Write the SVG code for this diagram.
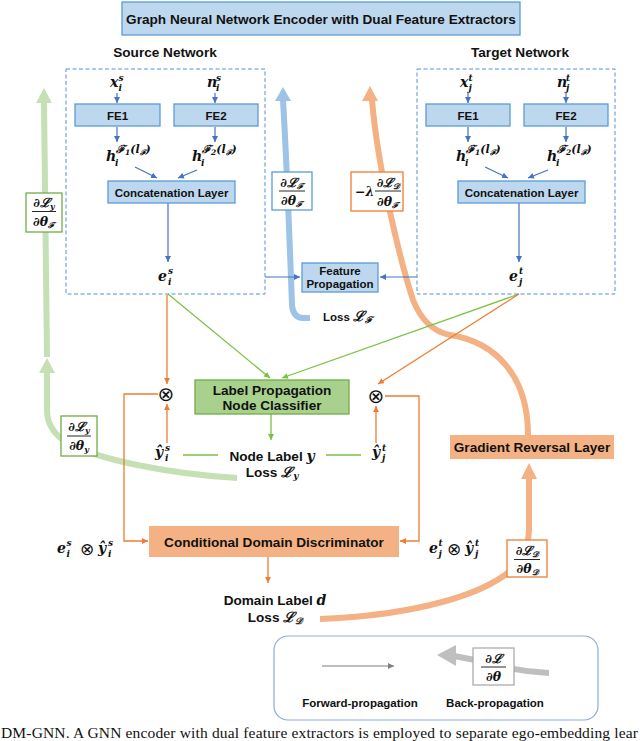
<svg xmlns="http://www.w3.org/2000/svg" width="640" height="741" viewBox="0 0 640 741">
<style>
.lb{font-family:"Liberation Sans",Arial,sans-serif;font-weight:bold;fill:#111}
.t13{font-size:13.6px}
.t11{font-size:11.5px}
.m{font-family:"DejaVu Serif","Liberation Serif",serif;font-weight:bold;font-style:italic;font-size:14px;fill:#111}
.ms{font-family:"DejaVu Serif","Liberation Serif",serif;font-weight:bold;font-style:italic;font-size:9px;fill:#111}
.mh{font-size:11px}
.mss{font-size:7.5px}
.op{font-family:"DejaVu Sans",sans-serif;font-weight:normal;fill:#111}
.f{font-family:"DejaVu Serif","Liberation Serif",serif;font-weight:bold;font-style:italic;font-size:12.5px;fill:#111}
.fs{font-size:8px}
.blue{fill:#bdd7ee;stroke:#5b9bd5;stroke-width:1.3}
.dash{fill:none;stroke:#5b8fd9;stroke-width:1;stroke-dasharray:4 2.5}
.thinb{fill:none;stroke:#4472c4;stroke-width:1.2}
.thing{fill:none;stroke:#7ac143;stroke-width:1.3}
.thino{fill:none;stroke:#ed7d31;stroke-width:1.3}
.thickb{fill:none;stroke:#9dc3e6;stroke-width:6}
.thicko{fill:none;stroke:#f4b183;stroke-width:6}
.thickg{fill:none;stroke:#c5e0b4;stroke-width:6}
.fl{stroke:#111;stroke-width:0.9}
</style>
<defs>
<marker id="ab" viewBox="0 0 10 10" refX="10" refY="5" markerWidth="6" markerHeight="6" markerUnits="userSpaceOnUse" orient="auto"><path d="M0,0 L10,5 L0,10 z" fill="#4472c4"/></marker>
<marker id="ag" viewBox="0 0 10 10" refX="10" refY="5" markerWidth="6" markerHeight="6" markerUnits="userSpaceOnUse" orient="auto"><path d="M0,0 L10,5 L0,10 z" fill="#7ac143"/></marker>
<marker id="ao" viewBox="0 0 10 10" refX="10" refY="5" markerWidth="6" markerHeight="6" markerUnits="userSpaceOnUse" orient="auto"><path d="M0,0 L10,5 L0,10 z" fill="#ed7d31"/></marker>
<marker id="ay" viewBox="0 0 10 10" refX="10" refY="5" markerWidth="6" markerHeight="6" markerUnits="userSpaceOnUse" orient="auto"><path d="M0,0 L10,5 L0,10 z" fill="#7f7f7f"/></marker>
</defs>
<rect width="640" height="741" fill="#fff"/>

<!-- back-propagation thick connectors -->
<g id="backprop">
<path class="thickb" d="M310 318 L302 318 Q293 317 292 305 C290 250 286 150 283 100"/>
<polygon points="283,87 275,101 291,101" fill="#9dc3e6"/>
<path class="thicko" d="M528 435 C528 375 495 342 450 335 Q425 330 413 300 C400 260 378 170 372 100"/>
<polygon points="370,86 362,101 378,101" fill="#f4b183"/>
<path class="thicko" d="M320 619 C400 616 470 600 505 575 Q528 558 529 530 L529 478"/>
<polygon points="529,463 521,479 537,479" fill="#f4b183"/>
<path class="thickg" d="M237 478 C170 474 100 460 70 444 Q47 432 47 410 L47 371"/>
<polygon points="47,358 39,373 55,373" fill="#c5e0b4"/>
<path class="thickg" d="M47 357 L44 101"/>
<polygon points="44,88 36,103 52,103" fill="#c5e0b4"/>
</g>

<!-- forward connectors -->
<g id="connectors">
<line class="thinb" x1="117" y1="93" x2="117" y2="103" marker-end="url(#ab)"/>
<line class="thinb" x1="117" y1="127" x2="117" y2="142" marker-end="url(#ab)"/>
<line class="thinb" x1="215" y1="93" x2="215" y2="103" marker-end="url(#ab)"/>
<line class="thinb" x1="215" y1="127" x2="215" y2="142" marker-end="url(#ab)"/>
<line class="thinb" x1="135" y1="167" x2="157" y2="178" marker-end="url(#ab)"/>
<line class="thinb" x1="197" y1="170" x2="178" y2="178" marker-end="url(#ab)"/>
<line class="thinb" x1="168" y1="203" x2="168" y2="262" marker-end="url(#ab)"/>
<line class="thinb" x1="468" y1="93" x2="468" y2="103" marker-end="url(#ab)"/>
<line class="thinb" x1="468" y1="127" x2="468" y2="142" marker-end="url(#ab)"/>
<line class="thinb" x1="566" y1="93" x2="566" y2="103" marker-end="url(#ab)"/>
<line class="thinb" x1="566" y1="127" x2="566" y2="142" marker-end="url(#ab)"/>
<line class="thinb" x1="485" y1="167" x2="508" y2="178" marker-end="url(#ab)"/>
<line class="thinb" x1="548" y1="170" x2="528" y2="178" marker-end="url(#ab)"/>
<line class="thinb" x1="519" y1="203" x2="519" y2="262" marker-end="url(#ab)"/>
<line class="thinb" x1="265" y1="277" x2="300" y2="277" marker-end="url(#ab)"/>
<line class="thinb" x1="417" y1="277" x2="380" y2="277" marker-end="url(#ab)"/>
<line class="thing" x1="168" y1="294" x2="270" y2="378" marker-end="url(#ag)"/>
<line class="thing" x1="519" y1="294" x2="282" y2="378" marker-end="url(#ag)"/>
<line class="thing" x1="271" y1="414" x2="271" y2="440" marker-end="url(#ag)"/>
<line class="thing" x1="183" y1="455" x2="218" y2="455"/>
<line class="thing" x1="326" y1="455" x2="361" y2="455"/>
<line class="thino" x1="167" y1="295" x2="167" y2="384" marker-end="url(#ao)"/>
<line class="thino" x1="167" y1="443" x2="167" y2="404" marker-end="url(#ao)"/>
<line class="thino" x1="519" y1="294" x2="378" y2="384" marker-end="url(#ao)"/>
<line class="thino" x1="376" y1="443" x2="376" y2="406" marker-end="url(#ao)"/>
<polyline class="thino" points="158,394 124,394 124,541 148,541" marker-end="url(#ao)"/>
<polyline class="thino" points="385,396 419,396 419,541 400,541" marker-end="url(#ao)"/>
<line class="thino" x1="268" y1="557" x2="268" y2="583" marker-end="url(#ao)"/>
</g>

<g id="title">
<rect class="blue" x="122" y="2" width="398" height="33"/>
<text class="lb t13" x="321" y="23.5" text-anchor="middle">Graph Neural Network Encoder with Dual Feature Extractors</text>
</g>

<g id="source-network">
<text class="lb t13" x="165" y="57" text-anchor="middle">Source Network</text>
<rect class="dash" x="66" y="69" width="199" height="225"/>
<text class="m" x="110" y="87">x</text><text class="ms" x="118.5" y="81">s</text><text class="ms" x="118.5" y="91">i</text>
<text class="m" x="207" y="87">n</text><text class="ms" x="216" y="81">s</text><text class="ms" x="216" y="91">i</text>
<rect class="blue" x="75" y="104" width="85" height="22"/>
<text class="lb t11" x="117.5" y="119.5" text-anchor="middle">FE1</text>
<rect class="blue" x="174" y="104" width="84" height="22"/>
<text class="lb t11" x="216" y="119.5" text-anchor="middle">FE2</text>
<text class="m" x="106" y="161">h</text><text class="ms" x="115" y="166">i</text>
<text class="ms mh" x="116" y="153">ℱ<tspan class="mss" dy="2">1</tspan><tspan dy="-2">(l</tspan><tspan class="mss" dy="2">ℱ</tspan><tspan dy="-2">)</tspan></text>
<text class="m" x="192" y="161">h</text><text class="ms" x="201" y="166">i</text>
<text class="ms mh" x="202" y="153">ℱ<tspan class="mss" dy="2">2</tspan><tspan dy="-2">(l</tspan><tspan class="mss" dy="2">ℱ</tspan><tspan dy="-2">)</tspan></text>
<rect class="blue" x="108" y="181" width="127" height="22"/>
<text class="lb t11" x="171.5" y="196.5" text-anchor="middle">Concatenation Layer</text>
<text class="m" x="158" y="281">e</text><text class="ms" x="168" y="274">s</text><text class="ms" x="168" y="285">i</text>
</g>

<g id="target-network">
<text class="lb t13" x="520" y="57" text-anchor="middle">Target Network</text>
<rect class="dash" x="417" y="69" width="198" height="225"/>
<text class="m" x="460" y="87">x</text><text class="ms" x="468.5" y="81">t</text><text class="ms" x="468.5" y="91">j</text>
<text class="m" x="557" y="87">n</text><text class="ms" x="566" y="81">t</text><text class="ms" x="566" y="91">j</text>
<rect class="blue" x="426" y="104" width="84" height="22"/>
<text class="lb t11" x="468" y="119.5" text-anchor="middle">FE1</text>
<rect class="blue" x="524" y="104" width="84" height="22"/>
<text class="lb t11" x="566" y="119.5" text-anchor="middle">FE2</text>
<text class="m" x="456" y="161">h</text><text class="ms" x="465" y="166">i</text>
<text class="ms mh" x="466" y="153">ℱ<tspan class="mss" dy="2">1</tspan><tspan dy="-2">(l</tspan><tspan class="mss" dy="2">ℱ</tspan><tspan dy="-2">)</tspan></text>
<text class="m" x="547" y="161">h</text><text class="ms" x="556" y="166">i</text>
<text class="ms mh" x="557" y="153">ℱ<tspan class="mss" dy="2">2</tspan><tspan dy="-2">(l</tspan><tspan class="mss" dy="2">ℱ</tspan><tspan dy="-2">)</tspan></text>
<rect class="blue" x="458" y="181" width="127" height="22"/>
<text class="lb t11" x="521.5" y="196.5" text-anchor="middle">Concatenation Layer</text>
<text class="m" x="509" y="281">e</text><text class="ms" x="519" y="274">t</text><text class="ms" x="519" y="285">j</text>
</g>

<g id="feature-propagation">
<rect class="blue" x="302" y="263" width="76" height="29"/>
<text class="lb t11" x="340" y="275" text-anchor="middle">Feature</text>
<text class="lb t11" x="340" y="288" text-anchor="middle">Propagation</text>
</g>

<g id="loss-f">
<text class="lb t11" x="323" y="321">Loss <tspan class="m" font-size="13px">ℒ</tspan><tspan class="ms" dy="2">ℱ</tspan></text>
</g>

<g id="grad-y-f">
<rect x="26" y="193" width="36" height="39" fill="#fff" stroke="#70ad47" stroke-width="1.3"/>
<text class="f" x="44" y="207" text-anchor="middle">∂ℒ<tspan class="fs" dy="2">y</tspan></text>
<line class="fl" x1="32" y1="211.5" x2="56" y2="211.5"/>
<text class="f" x="44" y="226" text-anchor="middle">∂θ<tspan class="fs" dy="2">ℱ</tspan></text>
</g>

<g id="grad-f-f">
<rect x="272" y="172" width="40" height="38" fill="#fff" stroke="#5b9bd5" stroke-width="1.3"/>
<text class="f" x="292" y="186.5" text-anchor="middle">∂ℒ<tspan class="fs" dy="2">ℱ</tspan></text>
<line class="fl" x1="279" y1="191" x2="305" y2="191"/>
<text class="f" x="292" y="205" text-anchor="middle">∂θ<tspan class="fs" dy="2">ℱ</tspan></text>
</g>

<g id="grad-d-f">
<rect x="351" y="172" width="52" height="39" fill="#fff" stroke="#ed7d31" stroke-width="1.3"/>
<text class="f" x="355" y="196">−λ</text>
<text class="f" x="388" y="186.5" text-anchor="middle">∂ℒ<tspan class="fs" dy="2">𝒟</tspan></text>
<line class="fl" x1="375" y1="191" x2="401" y2="191"/>
<text class="f" x="388" y="205.5" text-anchor="middle">∂θ<tspan class="fs" dy="2">ℱ</tspan></text>
</g>

<g id="otimes-s">
<text class="op" x="166" y="401" font-size="20" text-anchor="middle">⊗</text>
</g>
<g id="otimes-t">
<text class="op" x="376" y="403" font-size="20" text-anchor="middle">⊗</text>
</g>

<g id="label-propagation">
<rect x="195" y="380" width="154" height="34" fill="#a9d18e" stroke="#70ad47" stroke-width="1.3"/>
<text class="lb t13" x="272" y="395" text-anchor="middle">Label Propagation</text>
<text class="lb t13" x="272" y="410" text-anchor="middle">Node Classifier</text>
</g>

<g id="yhat-s">
<text class="m" x="155" y="457">ŷ</text><text class="ms" x="165" y="451">s</text><text class="ms" x="165" y="461">i</text>
</g>
<g id="yhat-t">
<text class="m" x="372" y="457">ŷ</text><text class="ms" x="382" y="451">t</text><text class="ms" x="382" y="461">j</text>
</g>

<g id="node-label-loss">
<text class="lb t13" x="272" y="461" text-anchor="middle">Node Label <tspan class="m">y</tspan></text>
<text class="lb t13" x="272" y="477" text-anchor="middle">Loss <tspan class="m">ℒ</tspan><tspan class="ms" dy="2">y</tspan></text>
</g>

<g id="grad-y-y">
<rect x="61" y="416" width="36" height="40" fill="#fff" stroke="#70ad47" stroke-width="1.3"/>
<text class="f" x="79" y="431" text-anchor="middle">∂ℒ<tspan class="fs" dy="2">y</tspan></text>
<line class="fl" x1="67" y1="436" x2="91" y2="436"/>
<text class="f" x="79" y="450" text-anchor="middle">∂θ<tspan class="fs" dy="2">y</tspan></text>
</g>

<g id="gradient-reversal">
<rect x="450" y="435" width="164" height="24" fill="#f4b183"/>
<text class="lb t13" x="532" y="452" text-anchor="middle">Gradient Reversal Layer</text>
</g>

<g id="domain-discriminator">
<rect x="149" y="526" width="250" height="31" fill="#f4b183"/>
<text class="lb t13" x="274" y="546.5" text-anchor="middle">Conditional Domain Discriminator</text>
</g>

<g id="input-s">
<text class="m" x="57" y="553">e</text><text class="ms" x="66.5" y="546">s</text><text class="ms" x="66.5" y="557">i</text>
<text class="op" x="80" y="555" font-size="17">⊗</text>
<text class="m" x="98" y="553">ŷ</text><text class="ms" x="108" y="546">s</text><text class="ms" x="108" y="557">i</text>
</g>
<g id="input-t">
<text class="m" x="429" y="553">e</text><text class="ms" x="438.5" y="546">t</text><text class="ms" x="438.5" y="557">j</text>
<text class="op" x="447" y="555" font-size="17">⊗</text>
<text class="m" x="465" y="553">ŷ</text><text class="ms" x="475" y="546">t</text><text class="ms" x="475" y="557">j</text>
</g>

<g id="domain-label-loss">
<text class="lb t13" x="275" y="605" text-anchor="middle">Domain Label <tspan class="m">d</tspan></text>
<text class="lb t13" x="275" y="622" text-anchor="middle">Loss <tspan class="m">ℒ</tspan><tspan class="ms" dy="2">𝒟</tspan></text>
</g>

<g id="grad-d-d">
<rect x="507" y="540" width="40" height="37" fill="#fff" stroke="#ed7d31" stroke-width="1.3"/>
<text class="f" x="527" y="555" text-anchor="middle">∂ℒ<tspan class="fs" dy="2">𝒟</tspan></text>
<line class="fl" x1="514" y1="559.5" x2="540" y2="559.5"/>
<text class="f" x="527" y="573" text-anchor="middle">∂θ<tspan class="fs" dy="2">𝒟</tspan></text>
</g>

<g id="legend">
<rect x="274" y="636" width="324" height="84" rx="14" fill="#fff" stroke="#8eaadb" stroke-width="1.2"/>
<line x1="322" y1="666" x2="394" y2="666" stroke="#7f7f7f" stroke-width="1.2" marker-end="url(#ay)"/>
<path d="M549 673 C525 672 500 667 480 661 L454 656" fill="none" stroke="#bfbfbf" stroke-width="6"/>
<polygon points="437,655 456,645 456,666" fill="#bfbfbf"/>
<rect x="473" y="648" width="41" height="37" fill="#fff" stroke="#a6a6a6" stroke-width="1.2"/>
<text class="f" x="493.5" y="662.5" text-anchor="middle">∂ℒ</text>
<line class="fl" x1="481" y1="667" x2="506" y2="667"/>
<text class="f" x="493.5" y="681" text-anchor="middle">∂θ</text>
<text class="lb t11" x="360" y="707" text-anchor="middle">Forward-propagation</text>
<text class="lb t11" x="495" y="707" text-anchor="middle">Back-propagation</text>
</g>

<g id="caption">
<text x="1" y="738" font-family="Liberation Serif,serif" font-size="15.5" fill="#111" textLength="637" lengthAdjust="spacing">DM-GNN. A GNN encoder with dual feature extractors is employed to separate ego-embedding lear</text>
</g>
</svg>
